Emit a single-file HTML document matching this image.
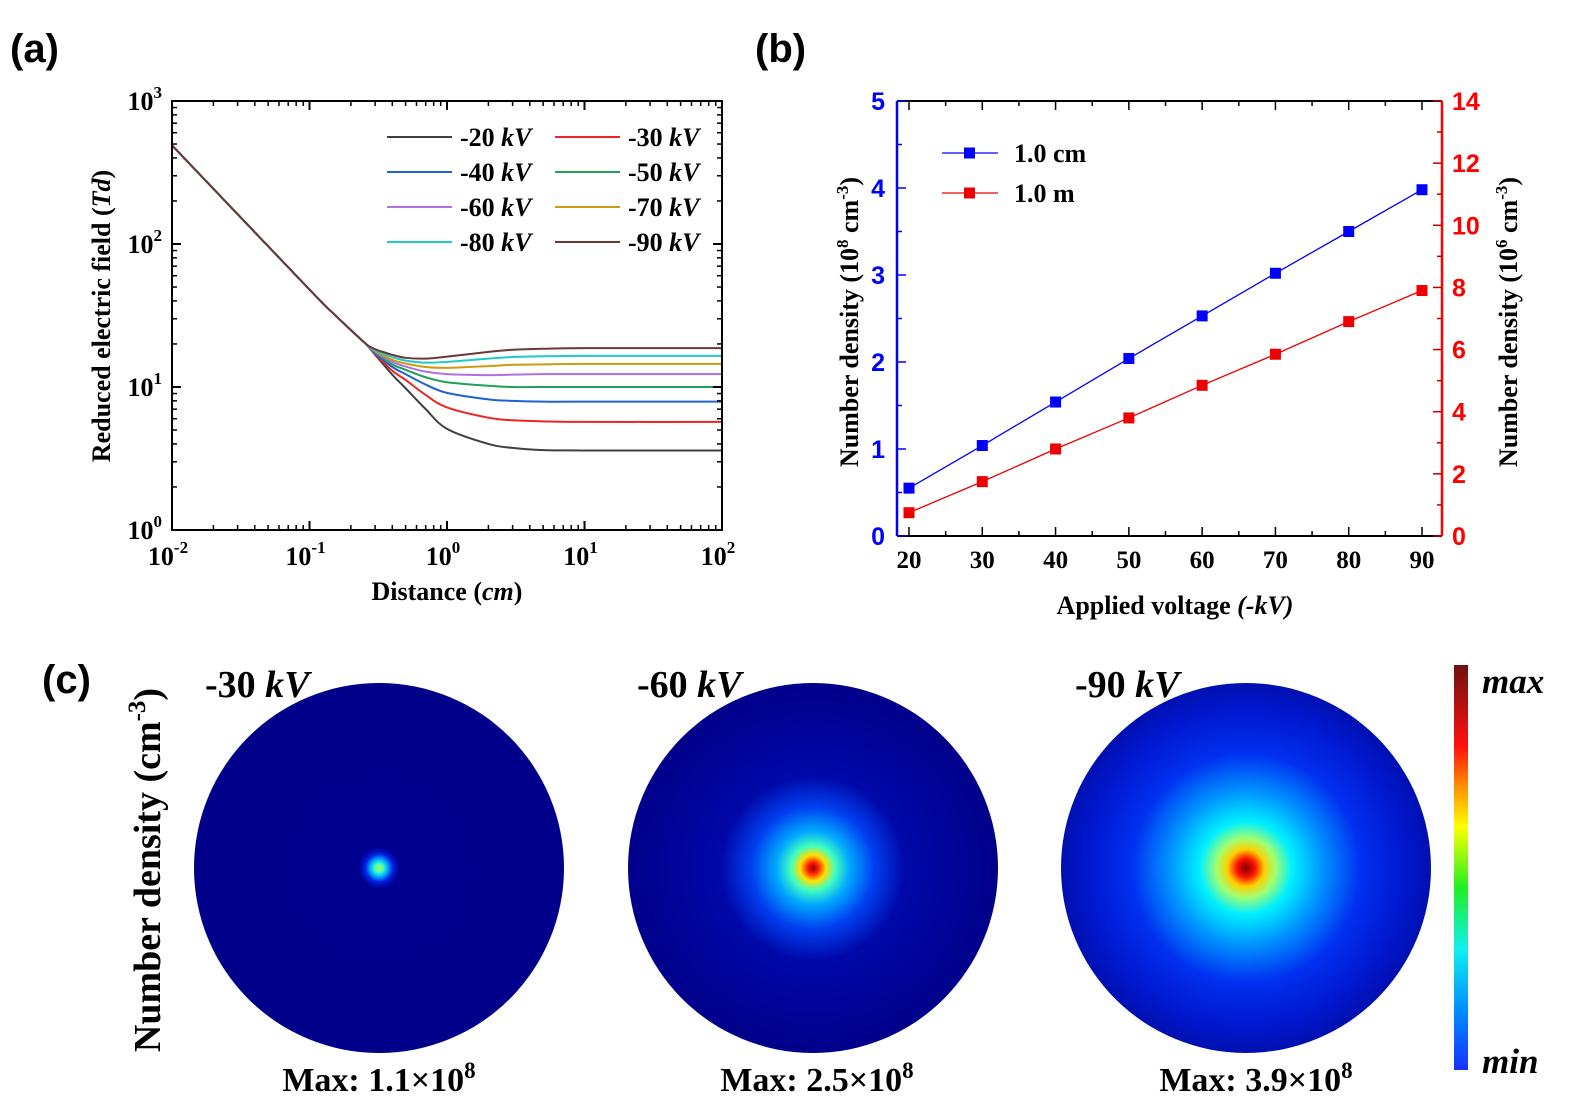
<!DOCTYPE html>
<html><head><meta charset="utf-8">
<style>
body{margin:0;background:#fff;}
svg{display:block;}
text{font-family:"Liberation Serif",serif;font-weight:bold;}
.pl{font-family:"Liberation Sans",sans-serif;font-weight:bold;}
</style></head>
<body>
<svg id="fig" width="1579" height="1115" viewBox="0 0 1579 1115" xmlns="http://www.w3.org/2000/svg">
<defs>
<radialGradient id="g30" cx="50%" cy="50%" r="50%">
<stop offset="0" stop-color="#d0ff30"/><stop offset="0.025" stop-color="#30ffd0"/><stop offset="0.05" stop-color="#00a0ff"/><stop offset="0.075" stop-color="#0020e0"/><stop offset="0.11" stop-color="#000090"/><stop offset="1" stop-color="#00008a"/>
</radialGradient>
<radialGradient id="g60" cx="50%" cy="50%" r="50%">
<stop offset="0" stop-color="#900000"/><stop offset="0.03" stop-color="#ff2000"/><stop offset="0.07" stop-color="#ffe000"/><stop offset="0.12" stop-color="#40ffc0"/><stop offset="0.2" stop-color="#00a8ff"/><stop offset="0.33" stop-color="#0040f0"/><stop offset="0.5" stop-color="#0008a8"/><stop offset="1" stop-color="#00008a"/>
</radialGradient>
<radialGradient id="g90" cx="50%" cy="50%" r="50%">
<stop offset="0" stop-color="#800000"/><stop offset="0.05" stop-color="#ff1000"/><stop offset="0.1" stop-color="#ffd000"/><stop offset="0.16" stop-color="#a0ff70"/><stop offset="0.25" stop-color="#00f0ff"/><stop offset="0.42" stop-color="#0090ff"/><stop offset="0.62" stop-color="#0030f0"/><stop offset="0.85" stop-color="#0018d0"/><stop offset="1" stop-color="#0010b0"/>
</radialGradient>
<linearGradient id="jet" x1="0" y1="1" x2="0" y2="0">
<stop offset="0" stop-color="#1830ff"/><stop offset="0.15" stop-color="#0090ff"/><stop offset="0.3" stop-color="#10f0f0"/><stop offset="0.45" stop-color="#20f020"/><stop offset="0.6" stop-color="#ffff00"/><stop offset="0.7" stop-color="#ff9000"/><stop offset="0.8" stop-color="#ff1010"/><stop offset="1" stop-color="#701010"/>
</linearGradient>
<clipPath id="clipA"><rect x="172" y="101" width="550" height="429"/></clipPath>
</defs>

<text x="10" y="62" font-size="40" class="pl">(a)</text>
<text x="755" y="62" font-size="40" class="pl">(b)</text>
<text x="42" y="693" font-size="40" class="pl">(c)</text>

<g id="panelA"></g>
<g id="panelB"></g>

<g>
<text transform="translate(160,870) rotate(-90)" text-anchor="middle" font-size="38">Number density (cm<tspan font-size="25" dy="-15">-3</tspan><tspan dy="15">)</tspan></text>
<circle cx="379" cy="868" r="185" fill="url(#g30)"/>
<circle cx="813" cy="868" r="185" fill="url(#g60)"/>
<circle cx="1246" cy="868" r="185" fill="url(#g90)"/>
<text x="205" y="697" font-size="38">-30 <tspan font-style="italic">kV</tspan></text>
<text x="637" y="697" font-size="38">-60 <tspan font-style="italic">kV</tspan></text>
<text x="1075" y="697" font-size="38">-90 <tspan font-style="italic">kV</tspan></text>
<text x="379" y="1091" font-size="34" text-anchor="middle">Max: 1.1×10<tspan font-size="23" dy="-13">8</tspan></text>
<text x="817" y="1091" font-size="34" text-anchor="middle">Max: 2.5×10<tspan font-size="23" dy="-13">8</tspan></text>
<text x="1256" y="1091" font-size="34" text-anchor="middle">Max: 3.9×10<tspan font-size="23" dy="-13">8</tspan></text>
<rect x="1454" y="665" width="14" height="405" fill="url(#jet)"/>
<text x="1482" y="693" font-size="35" font-style="italic">max</text>
<text x="1482" y="1073" font-size="35" font-style="italic">min</text>
</g>
</svg>

<script>
const NS='http://www.w3.org/2000/svg';
function mk(parent,tag,attrs,txt){const e=document.createElementNS(NS,tag);for(const k in attrs)e.setAttribute(k,attrs[k]);if(txt!==undefined)e.textContent=txt;parent.appendChild(e);return e;}

// ---------- Panel A data ----------
const distances=[0.01,0.1,0.15,0.25,0.3,0.4,0.5,0.7,1,2,3,5,10,100];
const seriesLabels=['-20','-30','-40','-50','-60','-70','-80','-90'];
const e20=[490,48,32.5,20.5,16.8,12.2,9.8,7.0,5.1,4.0,3.75,3.62,3.6,3.6];
const e30=[490,48,32.5,20.5,17.0,13.0,11.2,8.8,7.2,6.1,5.85,5.75,5.7,5.7];
const e40=[490,48,32.5,20.5,17.2,13.8,12.3,10.4,9.1,8.2,8.0,7.9,7.9,7.9];
const e50=[490,48,32.5,20.5,17.5,14.4,13.2,11.7,10.8,10.2,10,10,10,10];
const e60=[490,48,32.5,20.5,17.7,15.0,13.9,12.8,12.3,12.1,12.2,12.3,12.3,12.3];
const e70=[490,48,32.5,20.5,17.9,15.5,14.6,13.8,13.6,14,14.3,14.4,14.5,14.5];
const e80=[490,48,32.5,20.5,18.1,16.2,15.3,14.8,15,15.8,16.2,16.4,16.5,16.5];
const e90=[490,48,32.5,20.5,18.4,16.8,16,15.8,16.3,17.6,18.2,18.5,18.7,18.7];
const seriesA=[e20,e30,e40,e50,e60,e70,e80,e90];
const colorsA=['#404040','#ee2424','#1f62d6','#22a05a','#b070e0','#d09a10','#20c8c8','#6b3838'];
const xTicksA=[-2,-1,0,1,2];
const yTicksA=[0,1,2,3];

const A={x0:172,x1:722,y0:530,y1:101};
const ax=v=>A.x0+(Math.log10(v)+2)/4*(A.x1-A.x0);
const ay=v=>A.y0-Math.log10(v)/3*(A.y0-A.y1);
const gA=document.getElementById('panelA');
const clipG=mk(gA,'g',{'clip-path':'url(#clipA)'});
seriesA.forEach((s,si)=>{
  const pts=distances.map((d,i)=>[ax(d),ay(s[i])]);
  let d='M'+pts[0][0].toFixed(2)+','+pts[0][1].toFixed(2);
  for(let i=0;i<pts.length-1;i++){
    const p0=pts[Math.max(0,i-1)],p1=pts[i],p2=pts[i+1],p3=pts[Math.min(pts.length-1,i+2)];
    const c1=[p1[0]+(p2[0]-p0[0])/6,p1[1]+(p2[1]-p0[1])/6];
    const c2=[p2[0]-(p3[0]-p1[0])/6,p2[1]-(p3[1]-p1[1])/6];
    d+=` C${c1[0].toFixed(2)},${c1[1].toFixed(2)} ${c2[0].toFixed(2)},${c2[1].toFixed(2)} ${p2[0].toFixed(2)},${p2[1].toFixed(2)}`;
  }
  const p=mk(clipG,'path',{d:d,fill:'none',stroke:colorsA[si],'stroke-width':2});
  
  
});
const fr=mk(gA,'rect',{x:A.x0,y:A.y1,width:A.x1-A.x0,height:A.y0-A.y1,fill:'none',stroke:'#000','stroke-width':2});


for(let dec=-2;dec<=2;dec++){
  const x=ax(Math.pow(10,dec));
  mk(gA,'line',{x1:x,x2:x,y1:A.y0,y2:A.y0-9,stroke:'#000','stroke-width':2});
  mk(gA,'line',{x1:x,x2:x,y1:A.y1,y2:A.y1+9,stroke:'#000','stroke-width':2});
  if(dec<2)for(let m=2;m<=9;m++){const xm=ax(m*Math.pow(10,dec));
    mk(gA,'line',{x1:xm,x2:xm,y1:A.y0,y2:A.y0-5,stroke:'#000','stroke-width':1.5});
    mk(gA,'line',{x1:xm,x2:xm,y1:A.y1,y2:A.y1+5,stroke:'#000','stroke-width':1.5});}
}
xTicksA.forEach(e=>{
  const t=mk(gA,'text',{x:ax(Math.pow(10,e))-4,y:A.y0+35,'font-size':26,'text-anchor':'middle'});
  
  
  t.textContent='10';mk(t,'tspan',{'font-size':17,dy:-12},String(e));
});
for(let dec=0;dec<=3;dec++){
  const y=ay(Math.pow(10,dec));
  mk(gA,'line',{x1:A.x0,x2:A.x0+9,y1:y,y2:y,stroke:'#000','stroke-width':2});
  mk(gA,'line',{x1:A.x1,x2:A.x1-9,y1:y,y2:y,stroke:'#000','stroke-width':2});
  if(dec<3)for(let m=2;m<=9;m++){const ym=ay(m*Math.pow(10,dec));
    mk(gA,'line',{x1:A.x0,x2:A.x0+5,y1:ym,y2:ym,stroke:'#000','stroke-width':1.5});
    mk(gA,'line',{x1:A.x1,x2:A.x1-5,y1:ym,y2:ym,stroke:'#000','stroke-width':1.5});}
}
yTicksA.forEach(e=>{
  const t=mk(gA,'text',{x:A.x0-10,y:ay(Math.pow(10,e))+9,'font-size':26,'text-anchor':'end'});
  
  
  t.textContent='10';mk(t,'tspan',{'font-size':17,dy:-12},String(e));
});
let t=mk(gA,'text',{x:447,y:600,'font-size':26,'text-anchor':'middle'});


t.innerHTML='Distance (<tspan font-style="italic">cm</tspan>)';
t=mk(gA,'text',{transform:'translate(110,316) rotate(-90)','font-size':26,'text-anchor':'middle'});


t.innerHTML='Reduced electric field (<tspan font-style="italic">Td</tspan>)';
seriesLabels.forEach((lab,i)=>{
  const col=i%2,row=Math.floor(i/2);
  const lx=col?555:387,ly=137+row*35;
  const g=mk(gA,'g',{});
  
  
  mk(g,'line',{x1:lx,x2:lx+65,y1:ly,y2:ly,stroke:colorsA[i],'stroke-width':2});
  const tt=mk(g,'text',{x:lx+73,y:ly+9,'font-size':26});
  tt.innerHTML=lab+' <tspan font-style="italic">kV</tspan>';
});

// ---------- Panel B data ----------
const voltages=[20,30,40,50,60,70,80,90];
const density1cm=[0.55,1.04,1.54,2.04,2.53,3.02,3.50,3.98];
const density1m=[0.75,1.75,2.8,3.8,4.85,5.85,6.9,7.9];
const xTicksB=[20,30,40,50,60,70,80,90];
const yTicksLeft=[0,1,2,3,4,5];
const yTicksRight=[0,2,4,6,8,10,12,14];

const B={x0:897,x1:1442,y0:536,y1:101};
const bx=v=>909+(v-20)/70*(1422-909);
const byL=v=>B.y0-v/5*(B.y0-B.y1);
const byR=v=>B.y0-v/14*(B.y0-B.y1);
const gB=document.getElementById('panelB');
mk(gB,'line',{x1:B.x0,x2:B.x1,y1:B.y1,y2:B.y1,stroke:'#000','stroke-width':2});
mk(gB,'line',{x1:B.x0,x2:B.x1,y1:B.y0,y2:B.y0,stroke:'#000','stroke-width':2});
mk(gB,'line',{x1:B.x0,x2:B.x0,y1:B.y1,y2:B.y0,stroke:'#0000ff','stroke-width':2.5});
mk(gB,'line',{x1:B.x1,x2:B.x1,y1:B.y1,y2:B.y0,stroke:'#ff0000','stroke-width':2.5});
for(let v=20;v<=95;v+=5){const x=bx(v);if(x>B.x1)break;const L=v%10===0?9:5;
  mk(gB,'line',{x1:x,x2:x,y1:B.y0,y2:B.y0-L,stroke:'#000','stroke-width':1.5});
  mk(gB,'line',{x1:x,x2:x,y1:B.y1,y2:B.y1+L,stroke:'#000','stroke-width':1.5});}
xTicksB.forEach(v=>{const tt=mk(gB,'text',{x:bx(v),y:B.y0+32,'font-size':25,'text-anchor':'middle'},String(v));
  
  });
for(let v=0;v<=5;v+=0.5){const y=byL(v);mk(gB,'line',{x1:B.x0,x2:B.x0+(v%1===0?9:5),y1:y,y2:y,stroke:'#0000ff','stroke-width':1.5});}
yTicksLeft.forEach(v=>{const tt=mk(gB,'text',{x:B.x0-12,y:byL(v)+9,'font-size':25,'text-anchor':'end',fill:'#0000ff',class:'pl'},String(v));
  
  });
for(let v=0;v<=14;v+=1){const y=byR(v);mk(gB,'line',{x1:B.x1,x2:B.x1-(v%2===0?9:5),y1:y,y2:y,stroke:'#c00000','stroke-width':1.5});}
yTicksRight.forEach(v=>{const tt=mk(gB,'text',{x:B.x1+10,y:byR(v)+9,'font-size':25,fill:'#ff0000',class:'pl'},String(v));
  
  });
function series(vals,yf,col,name){
  const pts=voltages.map((v,i)=>bx(v)+','+yf(vals[i])).join(' ');
  const pl=mk(gB,'polyline',{points:pts,fill:'none',stroke:col,'stroke-width':1.3});
  
  
  voltages.forEach((v,i)=>{const r=mk(gB,'rect',{x:bx(v)-5.5,y:yf(vals[i])-5.5,width:11,height:11,fill:col});
    
    });
}
series(density1cm,byL,'#0000ff','series-1cm');
series(density1m,byR,'#ee0000','series-1m');
[[153,'#0000ff','1.0 cm'],[193,'#ee0000','1.0 m']].forEach((e,i)=>{
  const g=mk(gB,'g',{});
  
  
  mk(g,'line',{x1:942,x2:998,y1:e[0],y2:e[0],stroke:e[1],'stroke-width':1.3});
  mk(g,'rect',{x:964,y:e[0]-5.5,width:11,height:11,fill:e[1]});
  mk(g,'text',{x:1014,y:e[0]+9,'font-size':26},e[2]);
});
t=mk(gB,'text',{x:1175,y:614,'font-size':26,'text-anchor':'middle'});


t.innerHTML='Applied voltage <tspan font-style="italic">(-kV)</tspan>';
t=mk(gB,'text',{transform:'translate(858,322) rotate(-90)','font-size':26,'text-anchor':'middle'});


t.innerHTML='Number density (10<tspan font-size="17" dy="-10">8</tspan><tspan dy="10"> cm</tspan><tspan font-size="17" dy="-10">-3</tspan><tspan dy="10">)</tspan>';
t=mk(gB,'text',{transform:'translate(1517,322) rotate(-90)','font-size':26,'text-anchor':'middle'});


t.innerHTML='Number density (10<tspan font-size="17" dy="-10">6</tspan><tspan dy="10"> cm</tspan><tspan font-size="17" dy="-10">-3</tspan><tspan dy="10">)</tspan>';
</script>
</body></html>
